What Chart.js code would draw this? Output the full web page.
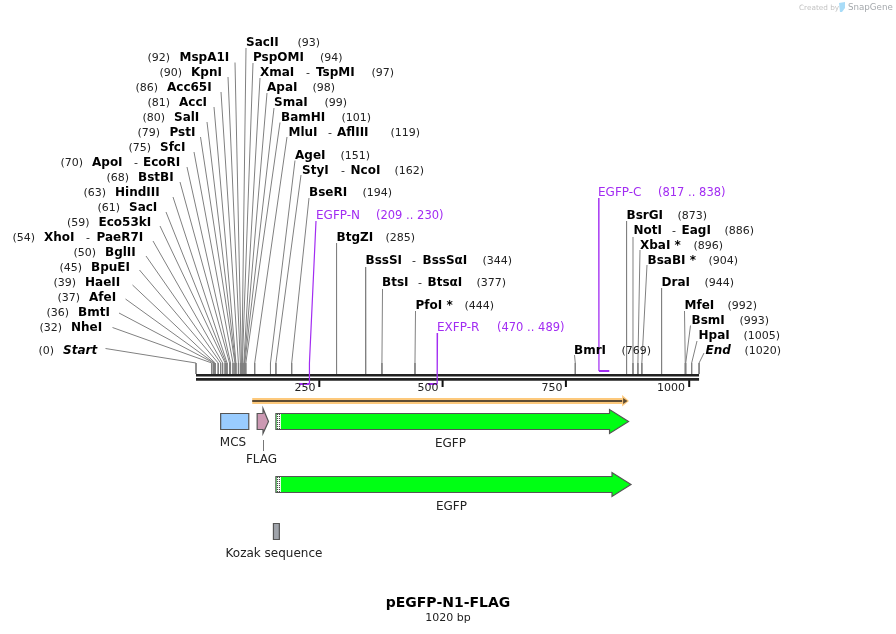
<!DOCTYPE html>
<html><head><meta charset="utf-8">
<style>html,body{margin:0;padding:0;background:#fff}canvas{display:block}</style>
<script src="https://cdn.jsdelivr.net/npm/chart.js@4"></script>
</head><body><canvas id="c" width="896" height="634"></canvas>
<script>
// ---------- data ----------
const title = "pEGFP-N1-FLAG";
const subtitle = "1020 bp";
const sequenceLength = 1020;
const rulerTicks = [250, 500, 750, 1000];
const siteNames = ["Start","NheI","BmtI","AfeI","HaeII","BpuEI","BglII","XhoI","Eco53kI","SacI","HindIII","BstBI","ApoI","SfcI","PstI","SalI","AccI","Acc65I","KpnI","MspA1I","SacII","PspOMI","XmaI","ApaI","SmaI","BamHI","MluI","AgeI","StyI","BseRI","BtgZI","BssSI","BtsI","PfoI *","BmrI","BsrGI","NotI","XbaI *","BsaBI *","DraI","MfeI","BsmI","HpaI","End"];
const siteAltNames = ["","","","","","","","PaeR7I","","","","","EcoRI","","","","","","","","","","TspMI","","","","AflIII","","NcoI","","","BssSαI","BtsαI","","","","EagI","","","","","","",""];
const siteBp = [0,32,36,37,39,45,50,54,59,61,63,68,70,75,79,80,81,86,90,92,93,94,97,98,99,101,119,151,162,194,285,344,377,444,769,873,886,896,904,944,992,993,1005,1020];
const primerNames = ["EGFP-N","EXFP-R","EGFP-C"];
const primerStart = [209,470,817];
const primerEnd = [230,489,838];
const featureNames = ["MCS","FLAG","EGFP","EGFP","Kozak sequence"];
const featureStart = [50,124,162,162,157];
const featureEnd = [107,147,877,882,169];
const orfStart = 114;
const orfEnd = 876;

// ---------- layout (pixels on the page, separate from the values) ----------
const BP0 = 196, PXBP = 0.4932, WIDTH = 896, HEIGHT = 634;
const toBp = px => (px - BP0) / PXBP;
// nameX, dashX, altX, numberX, labelY, leaderX, leaderY
const siteLayout = [
[63,0,0,38.5,350,105.5,348.5],[71,0,0,39.5,327,112.5,327.5],[78,0,0,46.5,312,119,313],[89,0,0,57.5,297,125.5,299],
[85,0,0,53.5,282,132.5,285],[91,0,0,59.5,267,139.5,270],[105,0,0,73.5,252,146,256],[44,86,96.5,12.5,237,153,241],
[98.5,0,0,67,222,160,226],[129,0,0,97.5,207,166,212],[115,0,0,83.5,192,173,197],[138,0,0,106.5,177,180,182],
[92,134,143,60.5,162,187,167],[160,0,0,128.5,147,194,152],[169.5,0,0,137.5,132,200.5,137],[174,0,0,142.5,117,207,122],
[179,0,0,147.5,102,214,107],[167,0,0,135.5,87,221,92],[191,0,0,159.5,72,228,77],[179.5,0,0,147.5,57,235,62.5],
[246,0,0,297.5,42,246,48],[253,0,0,320,57,253,63],[260,306,316,371.5,72,260,78],[267,0,0,312.5,87,267,93],
[274,0,0,324.5,102,274,108],[281,0,0,341.5,117,280,122.5],[288.5,328,337,390.5,132,287,137],[295,0,0,340.5,155,295,160.5],
[302,341,350.5,394.5,170,301,175],[309,0,0,362.5,192,309,198],[336.5,0,0,385.5,237,336.5,243],[365.5,412,422.5,482.5,260,365.5,267],
[382,418,427.5,476.5,282,382.5,289],[415.5,0,0,464.5,305,415.5,311],[574,0,0,621.5,350,574.5,355],[626.5,0,0,677.5,215,626.5,221],
[633.5,672,681.5,724.5,230,633,237],[640,0,0,693.5,245,640,250],[647.5,0,0,708.5,260,647,265],[661.5,0,0,704.5,282,661.5,288],
[684.5,0,0,727.5,305,684.5,311],[691.5,0,0,739.5,320,690.5,325.5],[698.5,0,0,743.5,335,697,341],[705.5,0,0,744.5,350,704,353]
];
const primerLayout = [ {x:316,numX:376,y:215,topX:316,topY:221,lineBp:230,barY:384},
                       {x:437,numX:497,y:327,topX:437.5,topY:333,lineBp:489,barY:384},
                       {x:598,numX:658,y:192,topX:598.7,topY:198,lineBp:817,barY:371} ];
const C = {grey:"#808080",purple:"#a22cf2",ink:"#000",num:"#222",edge:"#555",green:"#00ff14",orange:"#fdc97c",brown:"#5e4c33"};
const FF = '"DejaVu Sans", Verdana, sans-serif';

// ---------- datasets through the scales (the first dataset is painted last) ----------
const line = (pts,color,w,cap) => ({type:"scatter",showLine:true,data:pts,borderColor:color,borderWidth:w,pointRadius:0,borderCapStyle:cap||"butt",tension:0,fill:false});
const datasets = [];
primerStart.forEach((s,i)=>{
  const P = primerLayout[i];
  const pts = P.barY>375 ? [{x:toBp(P.topX),y:P.topY},{x:P.lineBp,y:363},{x:P.lineBp,y:P.barY}]
                         : [{x:toBp(P.topX),y:P.topY},{x:P.lineBp,y:P.barY}];
  datasets.push(line(pts,C.purple,1.2));
  datasets.push(line([{x:s,y:P.barY},{x:primerEnd[i],y:P.barY}],C.purple,2));
});
siteBp.forEach((bp,i)=>{
  const L = siteLayout[i];
  datasets.push(line([{x:toBp(L[5]),y:L[6]},{x:bp,y:363},{x:bp,y:374}],C.grey,1));
});
datasets.push(line([{x:0,y:375.2},{x:sequenceLength,y:375.2}],"#222",2.6));
datasets.push(line([{x:0,y:379.4},{x:sequenceLength,y:379.4}],"#222",2.6));
rulerTicks.forEach(t=>datasets.push(line([{x:t,y:380},{x:t,y:387}],"#111",2)));
datasets.push(line([{x:orfStart,y:401},{x:orfEnd-8,y:401}],C.brown,2));
datasets.push(line([{x:orfStart,y:401},{x:orfEnd-12,y:401}],C.orange,6));

// ---------- plugin: feature shapes and text, placed with the scales ----------
function poly(ctx,pts,fill,stroke){
  ctx.beginPath(); pts.forEach((p,i)=>i?ctx.lineTo(p[0],p[1]):ctx.moveTo(p[0],p[1])); ctx.closePath();
  ctx.fillStyle=fill; ctx.fill();
  if(stroke){ctx.strokeStyle=stroke;ctx.lineWidth=1.2;ctx.stroke();}
}
function txt(ctx,s,x,y,font,color,align){
  ctx.font=font;ctx.fillStyle=color;ctx.textAlign=align||"left";ctx.textBaseline="middle";ctx.fillText(s,x,y+1);
}
const mapPlugin = {id:"map",afterDatasetsDraw(chart){
  const ctx=chart.ctx, X=v=>chart.scales.x.getPixelForValue(v), Y=v=>chart.scales.y.getPixelForValue(v);
  ctx.save();
  const nameFont='bold 12px '+FF, itFont='italic bold 12px '+FF, numFont='11px '+FF, primerNum='11.5px '+FF;
  siteNames.forEach((n,i)=>{
    const L=siteLayout[i], it=(n==="Start"||n==="End");
    txt(ctx,n,L[0],L[4],it?itFont:nameFont,C.ink);
    if(siteAltNames[i]){txt(ctx,"-",L[1],L[4],numFont,C.num);txt(ctx,siteAltNames[i],L[2],L[4],nameFont,C.ink);}
    txt(ctx,"("+siteBp[i]+")",L[3],L[4],numFont,C.num);
  });
  primerNames.forEach((n,i)=>{
    const P=primerLayout[i];
    txt(ctx,n,P.x,P.y,'12px '+FF,C.purple);
    txt(ctx,"("+primerStart[i]+" .. "+primerEnd[i]+")",P.numX,P.y,primerNum,C.purple);
  });
  const tickX=[305,428,552,671];
  rulerTicks.forEach((t,i)=>txt(ctx,String(t),tickX[i],387,'11px '+FF,"#222","center"));
  // ORF arrow head
  poly(ctx,[[X(orfEnd-12),Y(395)],[X(orfEnd+2),Y(401)],[X(orfEnd-12),Y(406.5)]],C.orange);
  poly(ctx,[[X(orfEnd-10),Y(398)],[X(orfEnd-1),Y(401)],[X(orfEnd-10),Y(404)]],C.brown);
  // MCS
  const rect=(a,b,t,h,f)=>poly(ctx,[[X(a),Y(t)],[X(b),Y(t)],[X(b),Y(t+h)],[X(a),Y(t+h)]],f,C.edge);
  rect(featureStart[0],featureEnd[0],413.5,16,"#99ccff");
  // FLAG
  const fa=X(featureStart[1]), fb=X(featureEnd[1]), fm=fb-5.5;
  poly(ctx,[[fa,413.5],[fm,413.5],[fm,408.5],[fb,421.5],[fm,433.5],[fm,429.5],[fa,429.5]],"#cc99b3",C.edge);
  // EGFP arrows
  const arrow=(a,b,mid,headLen)=>{
    const xa=X(a),xb=X(b),xm=xb-headLen;
    poly(ctx,[[xa,mid-8],[xm,mid-8],[xm,mid-12],[xb,mid],[xm,mid+12],[xm,mid+8],[xa,mid+8]],C.green,C.edge);
    ctx.fillStyle="#fff";ctx.fillRect(xa+0.8,mid-7.5,4.2,15);
    ctx.fillStyle="#333";
    for(let yy=mid-7.5;yy<mid+7.5;yy+=2){for(let k=0;k<2;k++){ctx.fillRect(xa+1+k*2+((Math.round(yy-mid)%4===0)?1:0),yy,1,1);}}
  };
  arrow(featureStart[2],featureEnd[2],421.5,19);
  arrow(featureStart[3],featureEnd[3],484.5,19);
  // Kozak
  rect(featureStart[4],featureEnd[4],523.5,16,"#a0a4ab");
  // FLAG connector
  ctx.strokeStyle="#777";ctx.lineWidth=1;ctx.beginPath();ctx.moveTo(263.5,440);ctx.lineTo(263.5,451);ctx.stroke();
  // feature labels
  const lblFont='12px '+FF, lab="#222";
  txt(ctx,featureNames[0],233,442,lblFont,lab,"center");
  txt(ctx,featureNames[1],261.5,459,lblFont,lab,"center");
  txt(ctx,featureNames[2],450.5,443,lblFont,lab,"center");
  txt(ctx,featureNames[3],451.5,506,lblFont,lab,"center");
  txt(ctx,featureNames[4],274,553,lblFont,lab,"center");
  // title
  txt(ctx,title,448,602.5,'bold 14px '+FF,C.ink,"center");
  txt(ctx,subtitle,448,617.5,'11px '+FF,"#222","center");
  // credit
  txt(ctx,"Created by",799,7,'7.3px '+FF,"#c4c4c4");
  poly(ctx,[[839,3],[845,2],[845,8],[842,12],[840,12]],"#a8dcf8");
  txt(ctx,"SnapGene",848,7,'8.7px '+FF,"#a5a9ad");
  ctx.restore();
}};

new Chart(document.getElementById("c"),{
  type:"scatter",
  data:{datasets},
  plugins:[mapPlugin],
  options:{
    responsive:false,animation:false,devicePixelRatio:1,
    layout:{padding:0},
    plugins:{legend:{display:false},tooltip:{enabled:false},title:{display:false}},
    events:[],
    scales:{
      x:{type:"linear",display:false,min:(0-BP0)/PXBP,max:(WIDTH-BP0)/PXBP},
      y:{type:"linear",display:false,min:0,max:HEIGHT,reverse:true}
    }
  }
});
</script></body></html>
